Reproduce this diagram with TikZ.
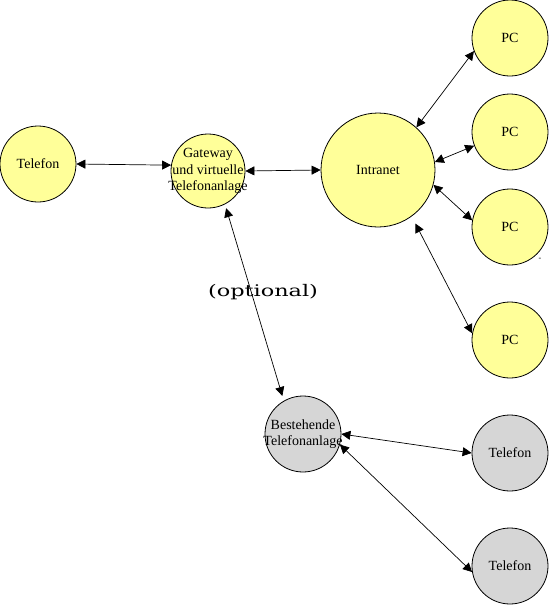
\documentclass[tikz,border=0pt]{standalone}
\usepackage{fontspec}
\setmainfont{Liberation Serif}
\newfontfamily\optfont[FakeStretch=1.4]{DejaVu Serif}
\usepackage{xcolor}
\usetikzlibrary{arrows.meta}
\definecolor{nodeyellow}{HTML}{FFFF99}
\definecolor{nodegray}{HTML}{D6D6D6}

\begin{document}
\begin{tikzpicture}[x=1pt, y=-1pt,
  bubble/.style={draw, circle, line width=0.8pt, inner sep=0pt, minimum size=76pt, fill=nodeyellow},
  oldbubble/.style={bubble, fill=nodegray},
  txt/.style={align=center, font=\fontsize{14}{16.5}\selectfont, inner sep=0pt},
  arr/.style={line width=0.7pt, {Triangle[length=9pt,width=9pt]}-{Triangle[length=9pt,width=9pt]}}
]
  \useasboundingbox (0,0) rectangle (549,606);
  \node[bubble, label={[txt]center:Telefon}] (tel) at (38,164) {};
  \node[bubble, minimum size=74pt, label={[txt]center:Gateway\\und virtuelle\\Telefonanlage}] (gw) at (208,171) {};
  \node[bubble, minimum size=114pt, label={[txt]center:Intranet}] (intranet) at (378,170) {};
  \node[bubble, label={[txt]center:PC}] (pc1) at (510,38) {};
  \node[bubble, label={[txt]center:PC}] (pc2) at (510,132) {};
  \node[bubble, label={[txt]center:PC}] (pc3) at (510,227) {};
  \node[bubble, label={[txt]center:PC}] (pc4) at (510,340) {};
  \node[oldbubble, label={[txt]center:Bestehende\\Telefonanlage}] (best) at (303,434) {};
  \node[oldbubble, label={[txt]center:Telefon}] (tel1) at (510,453) {};
  \node[oldbubble, label={[txt]center:Telefon}] (tel2) at (510,566) {};
  \node[font=\optfont\fontsize{16}{16}\selectfont, inner sep=0pt] (opt) at (263,292) {(optional)};
  \node[font=\fontsize{8}{8}\selectfont, inner sep=0pt] (dash) at (540,259) {-};

  \draw[arr] (tel.east) -- (gw.171);
  \draw[arr] (gw.east) -- (intranet.west);
  \draw[arr] (intranet.48) -- (pc1.200);
  \draw[arr] (intranet.8) -- (pc2.201);
  \draw[arr] (intranet.-15) -- (pc3.170);
  \draw[arr, shorten <=8pt] (intranet.-54) -- (pc4.170);
  \draw[arr, shorten <=4pt, shorten >=5pt] (gw.-63) -- (best.120);
  \draw[arr] (best.east) -- (tel1.west);
  \draw[arr] (best.-16) -- (tel2.189);
\end{tikzpicture}
\end{document}
